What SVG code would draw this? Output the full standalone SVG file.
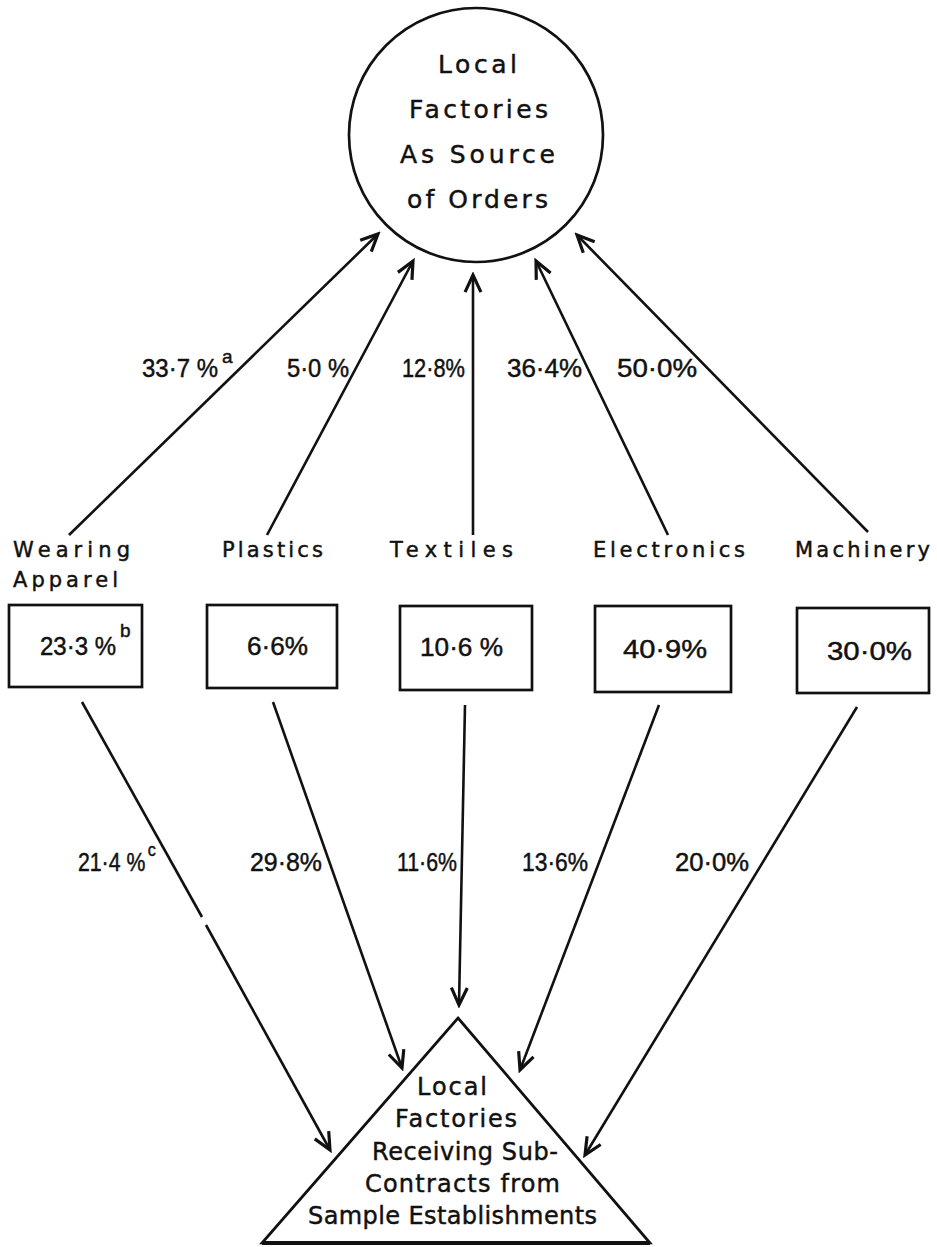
<svg xmlns="http://www.w3.org/2000/svg" width="937" height="1247" viewBox="0 0 937 1247">
  <style>
    .shape { fill: none; stroke: #111; stroke-width: 2.7; }
    .edge { fill: none; stroke: #111; stroke-width: 2.6; }
    text { font-family: "DejaVu Sans", "Liberation Sans", sans-serif; fill: #111; stroke: #111; stroke-width: 0.45; }
    .big { font-size: 25px; }
    .tri { font-size: 24px; }
    .lab { font-size: 21px; }
    .pct { font-family: "Liberation Sans", Arial, sans-serif; font-size: 25px; }
    .sup { font-family: "Liberation Sans", Arial, sans-serif; font-size: 19px; }
  </style>
  <defs>
    <marker id="arrow" markerUnits="userSpaceOnUse" markerWidth="22" markerHeight="22" viewBox="-15 -9 17 18" refX="0" refY="0" orient="auto">
      <path d="M-14,-6.5 L0,0 L-14,6.5" fill="none" stroke="#111" stroke-width="2.6" stroke-linejoin="miter"/>
    </marker>
  </defs>

  <!-- top node: circle -->
  <g id="node-source">
    <circle class="shape" cx="476" cy="135" r="127"/>
    <text class="big" x="438" y="73" textLength="79" lengthAdjust="spacing">Local</text>
    <text class="big" x="409" y="118" textLength="139" lengthAdjust="spacing">Factories</text>
    <text class="big" x="400" y="163" textLength="155" lengthAdjust="spacing">As  Source</text>
    <text class="big" x="407" y="208" textLength="141" lengthAdjust="spacing">of  Orders</text>
  </g>

  <!-- sector nodes -->
  <g id="node-apparel">
    <text class="lab" x="13" y="557" textLength="117" lengthAdjust="spacing">Wearing</text>
    <text class="lab" x="13" y="587" textLength="105" lengthAdjust="spacing">Apparel</text>
    <rect class="shape" x="9" y="605" width="133" height="82"/>
    <text class="pct" x="40" y="655" textLength="76" lengthAdjust="spacingAndGlyphs">23·3 %</text>
    <text class="sup" x="120" y="637">b</text>
  </g>
  <g id="node-plastics">
    <text class="lab" x="222" y="557" textLength="101" lengthAdjust="spacing">Plastics</text>
    <rect class="shape" x="207" y="605" width="130" height="83"/>
    <text class="pct" x="247" y="655" textLength="61" lengthAdjust="spacingAndGlyphs">6·6%</text>
  </g>
  <g id="node-textiles">
    <text class="lab" x="390" y="557" textLength="123" lengthAdjust="spacing">Textiles</text>
    <rect class="shape" x="400" y="606" width="132" height="84"/>
    <text class="pct" x="420" y="656" textLength="83" lengthAdjust="spacingAndGlyphs">10·6 %</text>
  </g>
  <g id="node-electronics">
    <text class="lab" x="593" y="557" textLength="152" lengthAdjust="spacing">Electronics</text>
    <rect class="shape" x="595" y="606" width="136" height="86"/>
    <text class="pct" x="623" y="658" textLength="84" lengthAdjust="spacingAndGlyphs">40·9%</text>
  </g>
  <g id="node-machinery">
    <text class="lab" x="795" y="557" textLength="135" lengthAdjust="spacing">Machinery</text>
    <rect class="shape" x="797" y="608" width="132" height="85"/>
    <text class="pct" x="827" y="660" textLength="85" lengthAdjust="spacingAndGlyphs">30·0%</text>
  </g>

  <!-- bottom node: triangle -->
  <g id="node-subcontract">
    <path class="shape" d="M458,1018 L650,1243 L262,1243 Z"/>
    <line x1="262" y1="1243" x2="650" y2="1243" stroke="#111" stroke-width="4"/>
    <text class="tri" x="417" y="1095" textLength="70" lengthAdjust="spacing">Local</text>
    <text class="tri" x="395" y="1127" textLength="122" lengthAdjust="spacing">Factories</text>
    <text class="tri" x="372" y="1160" textLength="186" lengthAdjust="spacing">Receiving Sub-</text>
    <text class="tri" x="365" y="1192" textLength="195" lengthAdjust="spacing">Contracts from</text>
    <text class="tri" x="308" y="1224" textLength="289" lengthAdjust="spacing">Sample Establishments</text>
  </g>

  <!-- connectors -->
  <g id="connectors">
    <!-- sectors to source circle -->
    <line class="edge" x1="69" y1="535" x2="378" y2="234" marker-end="url(#arrow)"/>
    <line class="edge" x1="267" y1="535" x2="413" y2="261" marker-end="url(#arrow)"/>
    <line class="edge" x1="473" y1="535" x2="473" y2="275" marker-end="url(#arrow)"/>
    <line class="edge" x1="668" y1="535" x2="536" y2="261" marker-end="url(#arrow)"/>
    <line class="edge" x1="868" y1="532" x2="577" y2="235" marker-end="url(#arrow)"/>

    <!-- sectors to subcontracting triangle -->
    <line class="edge" x1="82" y1="702" x2="202" y2="917"/>
    <line class="edge" x1="206" y1="925" x2="330" y2="1150" marker-end="url(#arrow)"/>
    <line class="edge" x1="273" y1="702" x2="402" y2="1068" marker-end="url(#arrow)"/>
    <line class="edge" x1="465" y1="705" x2="459" y2="1005" marker-end="url(#arrow)"/>
    <line class="edge" x1="659" y1="705" x2="520" y2="1070" marker-end="url(#arrow)"/>
    <line class="edge" x1="857" y1="707" x2="585" y2="1155" marker-end="url(#arrow)"/>
  </g>

  <!-- connector labels -->
  <g id="edge-labels">
    <text class="pct" x="142" y="377" textLength="76" lengthAdjust="spacingAndGlyphs">33·7 %</text>
    <text class="sup" x="222" y="363">a</text>
    <text class="pct" x="287" y="377" textLength="62" lengthAdjust="spacingAndGlyphs">5·0 %</text>
    <text class="pct" x="402" y="377" textLength="63" lengthAdjust="spacingAndGlyphs">12·8%</text>
    <text class="pct" x="507" y="377" textLength="75" lengthAdjust="spacingAndGlyphs">36·4%</text>
    <text class="pct" x="617" y="377" textLength="80" lengthAdjust="spacingAndGlyphs">50·0%</text>

    <!-- label with its footnote mark, narrowed as one run -->
    <text class="pct" transform="translate(78,871) scale(0.85,1)">21·4 %<tspan class="sup" dx="3" dy="-15">c</tspan></text>
    <text class="pct" x="250" y="871" textLength="72" lengthAdjust="spacingAndGlyphs">29·8%</text>
    <text class="pct" x="397" y="871" textLength="60" lengthAdjust="spacingAndGlyphs">11·6%</text>
    <text class="pct" x="522" y="871" textLength="66" lengthAdjust="spacingAndGlyphs">13·6%</text>
    <text class="pct" x="675" y="871" textLength="74" lengthAdjust="spacingAndGlyphs">20·0%</text>
  </g>
</svg>
